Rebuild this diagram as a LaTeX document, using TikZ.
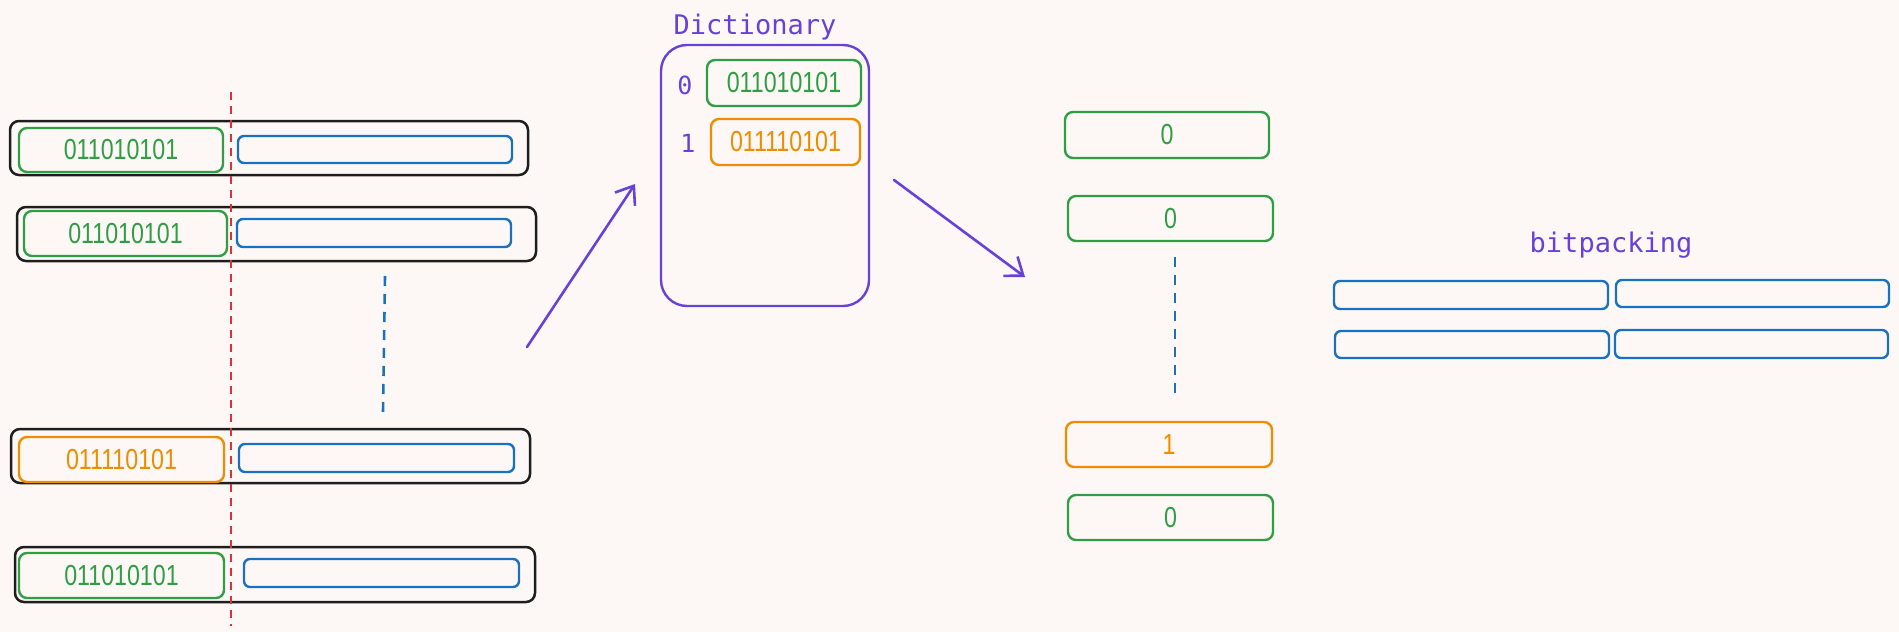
\documentclass[tikz,border=0pt]{standalone}
\usepackage{graphicx}
\usepackage{fontspec}
\setmainfont{Liberation Sans}
\newfontfamily\monof{DejaVu Sans Mono}
\usetikzlibrary{arrows.meta}
\definecolor{bg}{RGB}{253,248,245}
\definecolor{cgreen}{HTML}{2F9E44}
\definecolor{cblue}{HTML}{1971C2}
\definecolor{corange}{HTML}{F08C00}
\definecolor{cpurple}{HTML}{6741D9}
\definecolor{cred}{HTML}{E03131}
\definecolor{cblack}{HTML}{1E1E1E}
\newcommand\dg[1]{\scalebox{0.80}[1]{#1}}
\newcommand\pbox[7]{\node[#2, minimum width={#5-#3}, minimum height={#6-#4}] (#1) at ({(#3+#5)/2},{(#4+#6)/2}) {#7};}
\tikzset{
  base/.style={inner sep=0pt, outer sep=0pt, line join=round},
  rowbox/.style={base, draw=cblack, line width=2.5pt, rounded corners=9pt},
  gbox/.style={base, draw=cgreen, line width=2.4pt, rounded corners=8pt, text=cgreen, font=\fontsize{29}{30}\selectfont},
  obox/.style={base, draw=corange, line width=2.4pt, rounded corners=8pt, text=corange, font=\fontsize{29}{30}\selectfont},
  bbox/.style={base, draw=cblue, line width=2.4pt, rounded corners=6pt},
  pbig/.style={base, draw=cpurple, line width=2.4pt, rounded corners=26pt},
  ptext/.style={text=cpurple, inner sep=0pt},
  reddash/.style={draw=cred, line width=2.6pt, dash pattern=on 8pt off 6pt},
  bluedash/.style={draw=cblue, line width=2.6pt, dash pattern=on 10pt off 8pt},
  parrow/.style={draw=cpurple, line width=2.6pt, line cap=round, -{Straight Barb[length=16pt,width=24pt,line width=2.6pt]}},
}
\begin{document}
\begin{tikzpicture}[x=1pt,y=-1pt]
\fill[bg] (0,0) rectangle (1899,632);
\useasboundingbox (0,0) rectangle (1899,632);
% rows
\pbox{r1}{rowbox}{10}{121}{528}{175}{}
\pbox{r1g}{gbox}{19}{128}{223}{172}{\dg{011010101}}
\pbox{r1b}{bbox}{238}{136}{512}{163}{}
\pbox{r2}{rowbox}{17}{207}{536}{261}{}
\pbox{r2g}{gbox}{24}{211}{227}{256}{\dg{011010101}}
\pbox{r2b}{bbox}{237}{219}{511}{247}{}
\pbox{r3}{rowbox}{11}{429}{530}{483}{}
\pbox{r3o}{obox}{19}{437}{224}{482}{\dg{011110101}}
\pbox{r3b}{bbox}{239}{444}{514}{472}{}
\pbox{r4}{rowbox}{15}{547}{535}{602}{}
\pbox{r4g}{gbox}{19}{553}{224}{598}{\dg{011010101}}
\pbox{r4b}{bbox}{244}{559}{519}{587}{}
% red split line
\coordinate (redtop) at (231,92);
\coordinate (redbot) at (231,626);
\draw[reddash] (redtop) -- (redbot);
% left ellipsis
\coordinate (ld1) at (385,276);
\coordinate (ld2) at (383,412);
\draw[bluedash] (ld1) -- (ld2);
% arrow 1
\coordinate (a1s) at (527,347);
\coordinate (a1e) at (635,184);
\draw[parrow] (a1s) -- (a1e);
% dictionary
\node[ptext, font=\monof\fontsize{27}{28}\selectfont] (dtitle) at (755,27) {Dictionary};
\pbox{dict}{pbig}{661}{45}{869}{306}{}
\pbox{d0}{gbox}{707}{60}{861}{106}{\dg{011010101}}
\pbox{d1}{obox}{711}{119}{860}{165}{\dg{011110101}}
\node[ptext, font=\monof\fontsize{25}{26}\selectfont] (l0) at (685,85) {0};
\node[ptext, font=\monof\fontsize{25}{26}\selectfont] (l1) at (688,143) {1};
% arrow 2
\coordinate (a2s) at (894,180);
\coordinate (a2e) at (1025,277);
\draw[parrow] (a2s) -- (a2e);
% encoded column
\pbox{c1}{gbox}{1065}{112}{1269}{158}{\dg{0}}
\pbox{c2}{gbox}{1068}{196}{1273}{241}{\dg{0}}
\pbox{c3}{obox}{1066}{422}{1272}{467}{\dg{1}}
\pbox{c4}{gbox}{1068}{495}{1273}{540}{\dg{0}}
\coordinate (rd1) at (1175,257);
\coordinate (rd2) at (1175,394);
\draw[bluedash] (rd1) -- (rd2);
% bitpacking
\node[ptext, font=\monof\fontsize{27}{28}\selectfont] (btitle) at (1611,245) {bitpacking};
\pbox{bp1}{bbox}{1334}{281}{1608}{309}{}
\pbox{bp2}{bbox}{1616}{280}{1889}{307}{}
\pbox{bp3}{bbox}{1335}{331}{1609}{358}{}
\pbox{bp4}{bbox}{1615}{330}{1888}{358}{}
\end{tikzpicture}
\end{document}
